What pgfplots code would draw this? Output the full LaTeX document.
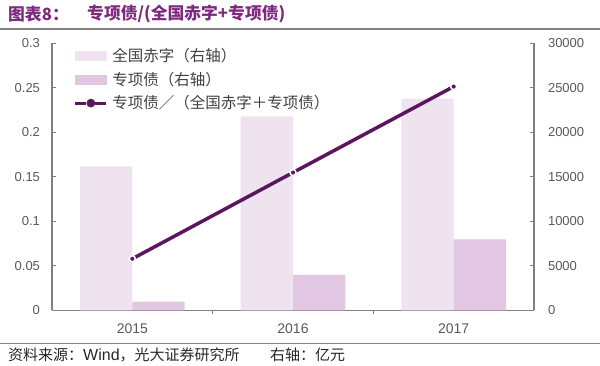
\documentclass[border=0pt]{standalone}
\usepackage{fontspec}
\setmainfont{Liberation Sans}
\newfontfamily\cjk{Noto Sans CJK SC}
\usepackage{pgfplots}
\pgfplotsset{compat=1.18}

\definecolor{barA}{HTML}{EFE3EF}
\definecolor{barB}{HTML}{E2C7E2}
\definecolor{lineC}{HTML}{5C1660}
\definecolor{titleC}{HTML}{7F2A7F}
\definecolor{axisC}{HTML}{808080}
\definecolor{tickC}{HTML}{595959}

\begin{document}
\begin{tikzpicture}[x=1pt,y=1pt]
\path[use as bounding box] (0,0) rectangle (600,366);
% title
\node[anchor=west, font=\cjk\bfseries\fontsize{16.8}{18}\selectfont, text=titleC, inner sep=0] at (8,352) {图表8：};
\node[anchor=west, font=\cjk\bfseries\fontsize{16.8}{18}\selectfont, text=titleC, inner sep=0] at (87,352) {专项债/(全国赤字+专项债)};
\draw[axisC, line width=2pt] (0,337) -- (600,337);
\draw[axisC, line width=1.2pt] (0,22.5) -- (600,22.5);
\node[anchor=west, font=\cjk\fontsize{15}{16}\selectfont, inner sep=0, text=black!85] at (8,11) {资料来源：{\normalfont\fontsize{16}{16}\selectfont Wind}，光大证券研究所};
\node[anchor=west, font=\cjk\fontsize{15}{16}\selectfont, inner sep=0, text=black!85] at (270,11) {右轴：亿元};

\begin{axis}[
 at={(52pt,55.5pt)}, anchor=south west, scale only axis, width=482pt, height=267pt,
 xmin=-0.5, xmax=2.5, ymin=0, ymax=30000,
 axis y line*=right, axis x line*=bottom,
 xtick={0,1,2}, xticklabels={2015,2016,2017}, major x tick style={draw=none},
 minor xtick={0.5,1.5},
 ytick={0,5000,10000,15000,20000,25000,30000},
 yticklabels={0,5000,10000,15000,20000,25000,30000},
 scaled y ticks=false,
 tick align=inside, major tick length=4pt, minor tick length=4pt,
 axis line style={axisC, line width=1.3pt, -},
 tick style={axisC, line width=1pt},
 ticklabel style={text=tickC, font=\fontsize{13}{15}\selectfont},
 yticklabel style={xshift=10.5pt},
 xticklabel style={yshift=-6pt, font=\fontsize{14}{15}\selectfont},
 ybar, bar width=0.326,
]
\addplot[fill=barA, draw=none, bar shift=-0.163] coordinates {(0,16200) (1,21800) (2,23800)};
\addplot[fill=barB, draw=none, bar shift=0.163] coordinates {(0,1000) (1,4000) (2,8000)};
\end{axis}

\begin{axis}[
 at={(52pt,55.5pt)}, anchor=south west, scale only axis, width=482pt, height=267pt,
 xmin=-0.5, xmax=2.5, ymin=0, ymax=0.3,
 axis y line*=left, axis x line=none,
 ytick={0,0.05,0.1,0.15,0.2,0.25,0.3},
 yticklabels={0,0.05,0.1,0.15,0.2,0.25,0.3},
 scaled y ticks=false,
 tick align=inside, major tick length=4pt,
 axis line style={axisC, line width=1.3pt, -},
 tick style={axisC, line width=1pt},
 ticklabel style={text=tickC, font=\fontsize{13}{15}\selectfont},
 yticklabel style={xshift=-8.5pt},
 legend style={at={(0.045,1.0)}, anchor=north west, draw=none, fill=none,
   font=\cjk\fontsize{15.5}{16}\selectfont, row sep=0pt, inner sep=0pt,
   nodes={inner sep=4.5pt, text=black!75}},
 legend cell align=left,
]
\addlegendimage{legend image code/.code={\fill[barA] (0pt,-4.5pt) rectangle (31pt,4.5pt);}}
\addlegendentry{全国赤字（右轴）}
\addlegendimage{legend image code/.code={\fill[barB] (0pt,-4.5pt) rectangle (31pt,4.5pt);}}
\addlegendentry{专项债（右轴）}
\addplot[lineC, line width=3.5pt, mark=*, mark size=3pt,
  mark options={fill=lineC, draw=white, line width=1.5pt},
  legend image code/.code={
    \draw[lineC, line width=3pt] (0pt,0) -- (11pt,0);
    \draw[lineC, line width=3pt] (20pt,0) -- (31pt,0);
    \fill[lineC] (15.5pt,0) circle (2.5pt);}]
  coordinates {(0,0.0581) (1,0.155) (2,0.2516)};
\addlegendentry{专项债／（全国赤字＋专项债）}
\end{axis}
\end{tikzpicture}
\end{document}
